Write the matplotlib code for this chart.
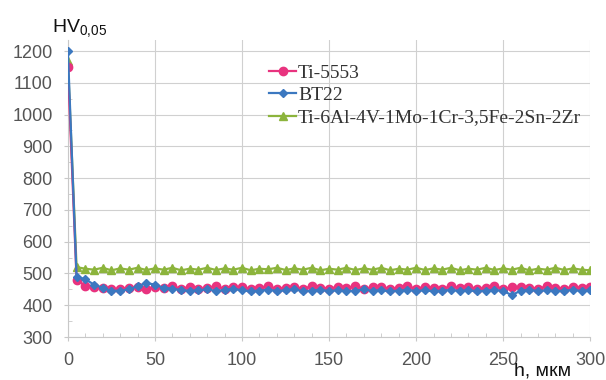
import matplotlib
matplotlib.use("Agg")
import matplotlib.pyplot as plt
from matplotlib.ticker import MultipleLocator

depth = list(range(0, 301, 5))

ti5553 = [1150, 480, 462, 458, 455, 450, 452, 455, 456, 452, 458, 455,
          460, 452, 458, 450, 455, 460, 452, 456, 458, 450, 455, 460,
          452, 455, 458, 452, 460, 455, 452, 458, 455, 460, 452, 456,
          458, 452, 455, 460, 452, 458, 455, 452, 460, 455, 458, 452,
          455, 460, 452, 456, 458, 455, 452, 460, 455, 452, 458, 455, 456]

bt22 = [1200, 490, 482, 465, 455, 445, 446, 450, 460, 470, 465, 455,
        452, 448, 445, 447, 450, 445, 448, 452, 447, 444, 446, 449,
        445, 447, 450, 444, 446, 448, 445, 447, 444, 446, 450, 445,
        447, 444, 446, 448, 445, 447, 444, 446, 448, 445, 447, 444,
        446, 448, 445, 432, 446, 448, 445, 447, 444, 446, 448, 445, 447]

ti6al = [1170, 520, 515, 512, 518, 510, 516, 512, 518, 511, 516, 512,
         518, 510, 515, 512, 518, 511, 516, 512, 518, 510, 515, 513,
         518, 511, 516, 512, 518, 510, 515, 512, 518, 511, 516, 512,
         518, 510, 515, 512, 518, 511, 516, 512, 518, 510, 515, 512,
         518, 511, 516, 512, 518, 510, 515, 512, 518, 511, 516, 512, 510]

labels = ["Ti-5553", "BT22", "Ti-6Al-4V-1Mo-1Cr-3,5Fe-2Sn-2Zr"]

plt.rcParams['mathtext.fontset'] = 'custom'
plt.rcParams['mathtext.rm'] = 'Liberation Sans'
plt.rcParams['mathtext.it'] = 'Liberation Sans'

fig = plt.figure(figsize=(6.06, 3.8), dpi=100)
ax = fig.add_axes([0.112, 0.113, 0.862, 0.782])

ax.plot(depth, ti5553, color='#e8337f', marker='o', markersize=6, lw=1.6, label=labels[0], zorder=3)
ax.plot(depth, bt22, color='#3b78c0', marker='D', markersize=4.5, lw=1.6, label=labels[1], zorder=4)
ax.plot(depth, ti6al, color='#8cb43c', marker='^', markersize=6, lw=1.6, label=labels[2], zorder=2)

ax.set_xlim(0, 300)
ax.set_ylim(300, 1235)
ax.xaxis.set_major_locator(MultipleLocator(50))
ax.yaxis.set_major_locator(MultipleLocator(100))
ax.xaxis.set_minor_locator(MultipleLocator(10))
ax.yaxis.set_minor_locator(MultipleLocator(50))
ax.grid(True, which='major', color='#d0d0d0', lw=0.8)
ax.set_axisbelow(True)
for s in ['top', 'right']:
    ax.spines[s].set_visible(False)
for s in ['left', 'bottom']:
    ax.spines[s].set_color('#c8c8c8')
ax.tick_params(which='major', length=3, color='#c8c8c8', labelsize=13,
               labelcolor='#555555', labelfontfamily='Liberation Sans')
ax.tick_params(which='minor', direction='in', length=3, color='#c8c8c8')
ax.tick_params(axis='x', pad=8)
ax.tick_params(axis='y', pad=8)

leg = ax.legend(loc='upper left', bbox_to_anchor=(0.37, 0.945), frameon=False,
                prop={'family': 'Liberation Serif', 'size': 14},
                handlelength=1.4, handletextpad=0.1, labelspacing=0.25,
                borderaxespad=0)
for t in leg.get_texts():
    t.set_color('#333333')

fig.text(0.086, 0.915, r'HV$_{\rm 0{,}05}$', fontsize=14, family='Liberation Sans', color='#111111')
fig.text(0.848, 0.012, 'h, мкм', fontsize=14, family='Liberation Sans', color='#111111')

fig.savefig('out.png', dpi=100)
